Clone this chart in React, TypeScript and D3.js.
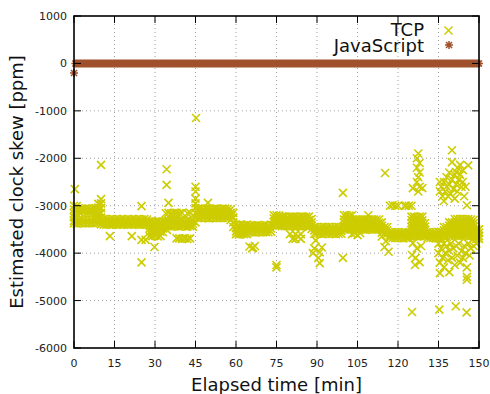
import React from "react";
import * as d3 from "d3";

// ---- tick labels ----
const xTicks = [0, 15, 30, 45, 60, 75, 90, 105, 120, 135, 150];
const yTicks = [1000, 0, -1000, -2000, -3000, -4000, -5000, -6000];

// ---- series names ----
const seriesNames = ["TCP", "JavaScript"];

// ---- TCP: dense band, one row per minute: [minute, ...skew values (ppm)] ----
const tcpBand: number[][] = [
  [0, -3000, -3080, -3160, -3240, -3320, -3370],
  [1, -3010, -3090, -3170, -3250, -3320, -3380],
  [2, -3060, -3130, -3300, -3370],
  [3, -3060, -3120, -3300, -3370],
  [4, -3060, -3120, -3300, -3370],
  [5, -3060, -3130, -3300, -3370],
  [6, -3070, -3130, -3300, -3370],
  [7, -3060, -3120, -3300, -3370],
  [8, -3050, -3130, -3210, -3300, -3370],
  [9, -2960, -3040, -3120, -3200, -3280, -3360],
  [10, -2860, -2950, -3050, -3150, -3250, -3330, -3390],
  [11, -3280, -3340, -3400],
  [12, -3280, -3340, -3400],
  [13, -3290, -3350, -3400],
  [14, -3280, -3340, -3400],
  [15, -3290, -3340, -3390],
  [16, -3280, -3340, -3400],
  [17, -3290, -3350, -3400],
  [18, -3280, -3340, -3400],
  [19, -3290, -3340, -3390],
  [20, -3280, -3340, -3400],
  [21, -3290, -3350, -3400],
  [22, -3280, -3340, -3400],
  [23, -3290, -3340, -3390],
  [24, -3280, -3340, -3400],
  [25, -3290, -3350, -3400],
  [26, -3280, -3340, -3400],
  [27, -3290, -3340, -3400],
  [28, -3330, -3400, -3480, -3560, -3640],
  [29, -3330, -3400, -3480, -3560, -3640],
  [30, -3340, -3410, -3480, -3560, -3630],
  [31, -3330, -3400, -3480, -3560, -3650],
  [32, -3340, -3400, -3470, -3550, -3640],
  [33, -3330, -3400, -3480, -3560],
  [34, -3160, -3320, -3380, -3430],
  [35, -3150, -3320, -3380, -3430],
  [36, -3160, -3320, -3380, -3440],
  [37, -3150, -3320, -3380, -3430],
  [38, -3150, -3320, -3380, -3430],
  [39, -3160, -3320, -3380, -3440],
  [40, -3150, -3320, -3380, -3430],
  [41, -3330, -3380, -3430],
  [42, -3160, -3320, -3380, -3440],
  [43, -3150, -3320, -3380, -3430],
  [44, -3320, -3380, -3440],
  [45, -2600, -2700, -2850, -2950, -3050, -3150, -3250, -3350],
  [46, -3060, -3130, -3200, -3260],
  [47, -3060, -3130, -3200, -3260],
  [48, -3070, -3130, -3200, -3260],
  [49, -3060, -3130, -3200, -3260],
  [50, -3060, -3130, -3200, -3270],
  [51, -3070, -3130, -3200, -3260],
  [52, -3060, -3130, -3200, -3260],
  [53, -3060, -3140, -3200, -3260],
  [54, -3070, -3130, -3200, -3260],
  [55, -3060, -3130, -3200, -3260],
  [56, -3060, -3130, -3210, -3260],
  [57, -3070, -3130, -3200, -3260],
  [58, -3080, -3150, -3220, -3300],
  [59, -3150, -3250, -3350, -3450],
  [60, -3400, -3470, -3540, -3600],
  [61, -3410, -3480, -3550, -3610],
  [62, -3400, -3470, -3540, -3600],
  [63, -3410, -3480, -3550, -3600],
  [64, -3400, -3470, -3540, -3600],
  [65, -3420, -3490, -3560],
  [66, -3420, -3490, -3560],
  [67, -3420, -3490, -3570],
  [68, -3410, -3490, -3560],
  [69, -3420, -3490, -3560],
  [70, -3420, -3480, -3560],
  [71, -3410, -3490, -3560],
  [72, -3420, -3490, -3560],
  [73, -3400, -3480, -3550],
  [74, -3200, -3270, -3340, -3410],
  [75, -3200, -3270, -3340, -3410],
  [76, -3210, -3280, -3350, -3420],
  [77, -3230, -3300, -3370, -3430],
  [78, -3230, -3300, -3370, -3430],
  [79, -3240, -3300, -3370, -3430],
  [80, -3230, -3300, -3370, -3430],
  [81, -3230, -3310, -3370, -3430],
  [82, -3230, -3300, -3370, -3440],
  [83, -3240, -3300, -3370, -3430],
  [84, -3230, -3300, -3370, -3430],
  [85, -3230, -3300, -3380, -3430],
  [86, -3230, -3300, -3370, -3430],
  [87, -3230, -3300, -3370, -3440],
  [88, -3280, -3350, -3420, -3490],
  [89, -3450, -3520, -3590],
  [90, -3450, -3520, -3590],
  [91, -3460, -3520, -3590],
  [92, -3450, -3520, -3600],
  [93, -3450, -3520, -3590],
  [94, -3450, -3530, -3590],
  [95, -3450, -3520, -3590],
  [96, -3460, -3520, -3590],
  [97, -3450, -3520, -3600],
  [98, -3450, -3520, -3590],
  [99, -3450, -3530, -3590],
  [100, -3200, -3290, -3360, -3430, -3500],
  [101, -3200, -3290, -3360, -3430, -3500],
  [102, -3210, -3290, -3360, -3430, -3500],
  [103, -3200, -3290, -3360, -3440, -3500],
  [104, -3290, -3360, -3430, -3500],
  [105, -3290, -3360, -3430, -3500],
  [106, -3290, -3370, -3430, -3500],
  [107, -3290, -3360, -3430, -3500],
  [108, -3290, -3360, -3430, -3510],
  [109, -3200, -3290, -3360, -3430, -3500],
  [110, -3290, -3360, -3430, -3500],
  [111, -3290, -3370, -3430, -3500],
  [112, -3290, -3360, -3430, -3500],
  [113, -3290, -3360, -3440, -3500],
  [114, -3350, -3420, -3500, -3570],
  [115, -3450, -3520, -3590],
  [116, -3450, -3520, -3590],
  [117, -3560, -3620, -3680],
  [118, -3560, -3620, -3680],
  [119, -3560, -3630, -3680],
  [120, -3560, -3620, -3680],
  [121, -3570, -3620, -3680],
  [122, -3560, -3620, -3690],
  [123, -3560, -3620, -3680],
  [124, -3560, -3630, -3680],
  [125, -3230, -3300, -3370, -3440, -3510, -3580, -3640],
  [126, -3230, -3300, -3370, -3440, -3510, -3580, -3640],
  [127, -3240, -3300, -3370, -3440, -3510, -3580, -3650],
  [128, -3230, -3300, -3370, -3440, -3510, -3580, -3640],
  [129, -3230, -3310, -3370, -3440, -3510, -3580, -3640],
  [130, -3370, -3440, -3510, -3580, -3640],
  [131, -3560, -3620, -3680],
  [132, -3560, -3620, -3680],
  [133, -3560, -3630, -3680],
  [134, -3560, -3620, -3690],
  [135, -3550, -3620, -3690],
  [136, -3550, -3620, -3690],
  [137, -3450, -3520, -3590, -3660],
  [138, -3450, -3520, -3590, -3660],
  [139, -3350, -3420, -3490, -3560, -3630],
  [140, -3350, -3420, -3490, -3560, -3630],
  [141, -3280, -3350, -3420, -3490, -3560, -3630],
  [142, -3280, -3350, -3420, -3490, -3560, -3630],
  [143, -3280, -3350, -3420, -3490, -3560, -3630],
  [144, -3280, -3350, -3420, -3490, -3560, -3630],
  [145, -3280, -3350, -3420, -3490, -3560, -3630],
  [146, -3280, -3350, -3420, -3490, -3560, -3630],
  [147, -3290, -3360, -3430, -3500, -3570, -3640],
  [148, -3300, -3370, -3440, -3510, -3580, -3640],
  [149, -3500, -3570, -3640, -3700],
  [150, -3500, -3570, -3640, -3700],
];

// ---- TCP: scattered samples [minute, skew (ppm)] ----
const tcpScatter: number[][] = [
  [0.3, -2650], [10, -2140],
  [13.3, -3640], [21.4, -3640], [25, -3010], [25, -3720], [26.5, -3720], [25, -4195], [29.8, -3870],
  [34.3, -2230], [34.3, -2560], [35, -2940], [34.4, -3510],
  [38, -3690], [39, -3690], [40, -3700], [41, -3690], [42, -3700], [43, -3690],
  [45.2, -1150], [49.6, -2940],
  [65, -3860], [66, -3900], [67, -3850], [66.3, -3880],
  [75, -4250], [75, -4300],
  [80, -3600], [81, -3700], [82, -3600], [82, -3700], [83, -3650], [84, -3700], [84, -3600],
  [88.5, -4000], [89, -3900], [89.5, -3730], [90.5, -4100], [91, -3980], [91, -4210], [91.8, -3880],
  [99.6, -2730], [99.6, -4100],
  [103, -3600], [104, -3580], [105, -3620], [106, -3580],
  [115.2, -2310], [114, -3650], [115, -3870], [116.5, -3970], [115.5, -3750],
  [117, -3000], [118, -2990], [119, -3000], [120, -3000], [122.5, -3000], [123, -3000], [124, -3000], [125, -3000],
  [125.2, -4040], [126.3, -4250], [128, -4190], [125.5, -3790], [127, -3900], [126.5, -4100], [128.5, -3850],
  [127.5, -1900], [127, -2000], [128, -2100], [127, -2200], [128, -2300], [127.5, -2400], [127, -2500],
  [128, -2600], [127.5, -2700], [125.5, -2630], [129, -2630],
  [125.2, -5240], [135.3, -5190], [141.4, -5120], [145.4, -5250],
  [135.5, -2500], [135.5, -2700], [136, -2600], [136.5, -2800], [137, -2500], [137, -2900], [137.5, -2700],
  [138, -2400], [138, -2600], [138.5, -2800], [139, -2300], [139, -2550], [139.5, -2750], [140, -1830],
  [140, -2080], [140, -2450], [140.5, -2650], [141, -2350], [141, -2850], [141.5, -2290], [141.5, -2550],
  [142, -2200], [142, -2700], [142.5, -2450], [143, -2140], [143, -2350], [143.5, -2600], [144, -2250],
  [144, -2500], [144.5, -2800], [145, -2600], [145.5, -2990], [146, -2150],
  [135, -3800], [135, -4000], [135.5, -4200], [135.5, -4420], [136, -3900], [136.5, -4100], [137, -3800],
  [137, -4300], [137.5, -4000], [138, -3850], [138.5, -4150], [139, -3950], [139, -4400], [139.5, -3800],
  [140, -4100], [140.5, -3900], [141, -4250], [141.5, -3850], [142, -4050], [142.5, -3800], [143, -4200],
  [143.5, -3950], [144, -4100], [144.5, -3850], [145, -4000], [145.5, -4300], [145.5, -4500], [145.5, -4560],
  [146, -3800], [146.5, -4050], [147, -3900], [148, -3850], [149, -3800],
];

// ---- JavaScript: one sample every half minute, skew (ppm) ----
const jsSampleStep = 0.5;
const jsSkew: number[] = [
  -200, 0, 0, 0, 0, 0, 0, 0, 0, 0, 0, 0, 0, 0, 0, 0, 0, 0, 0, 0, 0, 0, 0, 0, 0, 0, 0, 0, 0, 0,
  0, 0, 0, 0, 0, 0, 0, 0, 0, 0, 0, 0, 0, 0, 0, 0, 0, 0, 0, 0, 0, 0, 0, 0, 0, 0, 0, 0, 0, 0,
  0, 0, 0, 0, 0, 0, 0, 0, 0, 0, 0, 0, 0, 0, 0, 0, 0, 0, 0, 0, 0, 0, 0, 0, 0, 0, 0, 0, 0, 0,
  0, 0, 0, 0, 0, 0, 0, 0, 0, 0, 0, 0, 0, 0, 0, 0, 0, 0, 0, 0, 0, 0, 0, 0, 0, 0, 0, 0, 0, 0,
  0, 0, 0, 0, 0, 0, 0, 0, 0, 0, 0, 0, 0, 0, 0, 0, 0, 0, 0, 0, 0, 0, 0, 0, 0, 0, 0, 0, 0, 0,
  0, 0, 0, 0, 0, 0, 0, 0, 0, 0, 0, 0, 0, 0, 0, 0, 0, 0, 0, 0, 0, 0, 0, 0, 0, 0, 0, 0, 0, 0,
  0, 0, 0, 0, 0, 0, 0, 0, 0, 0, 0, 0, 0, 0, 0, 0, 0, 0, 0, 0, 0, 0, 0, 0, 0, 0, 0, 0, 0, 0,
  0, 0, 0, 0, 0, 0, 0, 0, 0, 0, 0, 0, 0, 0, 0, 0, 0, 0, 0, 0, 0, 0, 0, 0, 0, 0, 0, 0, 0, 0,
  0, 0, 0, 0, 0, 0, 0, 0, 0, 0, 0, 0, 0, 0, 0, 0, 0, 0, 0, 0, 0, 0, 0, 0, 0, 0, 0, 0, 0, 0,
  0, 0, 0, 0, 0, 0, 0, 0, 0, 0, 0, 0, 0, 0, 0, 0, 0, 0, 0, 0, 0, 0, 0, 0, 0, 0, 0, 0, 0, 0,
  0,
];

const W = 490;
const H = 394;
const M = { left: 74, right: 479, top: 16, bottom: 348 };
const FONT = "'DejaVu Sans', 'Liberation Sans', sans-serif";
const TCP_COLOR = "#cccc00";
const JS_COLOR = "#a0522d";

const X_PATH = "M-4,-4L4,4M-4,4L4,-4";
const STAR_PATH = "M-4,0L4,0M0,-4L0,4M-3,-3L3,3M-3,3L3,-3";

export default function App() {
  const x = d3.scaleLinear().domain([0, 150]).range([M.left, M.right]);
  const y = d3.scaleLinear().domain([-6000, 1000]).range([M.bottom, M.top]);

  const tcpPoints: [number, number][] = [];
  tcpBand.forEach((row) => {
    const t = row[0];
    for (let i = 1; i < row.length; i++) tcpPoints.push([t, row[i]]);
  });
  tcpScatter.forEach((p) => tcpPoints.push([p[0], p[1]]));

  const jsPoints: [number, number][] = jsSkew.map((v, i) => [i * jsSampleStep, v]);

  const tickLen = 7;

  return (
    <svg
      width={W}
      height={H}
      style={{ position: "absolute", left: 0, top: 0, background: "#fff" }}
      fontFamily={FONT}
    >
      <rect x={0} y={0} width={W} height={H} fill="#fff" />
      {/* grid */}
      <g stroke="#a0a0a0" strokeWidth={1} strokeDasharray="1,3">
        {xTicks.slice(1, -1).map((t) => (
          <line key={"gx" + t} x1={x(t)} x2={x(t)} y1={M.top} y2={M.bottom} />
        ))}
        {yTicks.slice(1, -1).map((v) => (
          <line key={"gy" + v} x1={M.left} x2={M.right} y1={y(v)} y2={y(v)} />
        ))}
      </g>

      {/* TCP points */}
      <g stroke={TCP_COLOR} strokeWidth={1.6} fill="none">
        {tcpPoints.map((p, i) => (
          <path key={"t" + i} d={X_PATH} transform={`translate(${x(p[0])},${y(p[1])})`} />
        ))}
      </g>

      {/* JavaScript points */}
      <g stroke={JS_COLOR} strokeWidth={1.5} fill="none">
        {jsPoints.map((p, i) => (
          <path key={"j" + i} d={STAR_PATH} transform={`translate(${x(p[0])},${y(p[1])})`} />
        ))}
      </g>

      {/* ticks */}
      <g stroke="#000" strokeWidth={1}>
        {xTicks.map((t) => (
          <g key={"xt" + t}>
            <line x1={x(t)} x2={x(t)} y1={M.bottom} y2={M.bottom - tickLen} />
            <line x1={x(t)} x2={x(t)} y1={M.top} y2={M.top + tickLen} />
          </g>
        ))}
        {yTicks.map((v) => (
          <g key={"yt" + v}>
            <line x1={M.left} x2={M.left + tickLen} y1={y(v)} y2={y(v)} />
            <line x1={M.right} x2={M.right - tickLen} y1={y(v)} y2={y(v)} />
          </g>
        ))}
      </g>

      {/* border */}
      <rect
        x={M.left}
        y={M.top}
        width={M.right - M.left}
        height={M.bottom - M.top}
        fill="none"
        stroke="#000"
        strokeWidth={1.6}
      />

      {/* tick labels */}
      <g fontSize={11} fill="#222">
        {xTicks.map((t) => (
          <text key={"xl" + t} x={x(t)} y={367} textAnchor="middle">
            {t}
          </text>
        ))}
        {yTicks.map((v) => (
          <text key={"yl" + v} x={67} y={y(v)} dy="0.36em" textAnchor="end">
            {v}
          </text>
        ))}
      </g>

      {/* axis titles */}
      <text x={(M.left + M.right) / 2} y={391} textAnchor="middle" fontSize={18} fill="#111">
        Elapsed time [min]
      </text>
      <text
        transform={`translate(23,${(M.top + M.bottom) / 2}) rotate(-90)`}
        textAnchor="middle"
        fontSize={18}
        fill="#111"
      >
        Estimated clock skew [ppm]
      </text>

      {/* legend */}
      <g fontSize={18} fill="#111">
        <text x={424} y={35.5} textAnchor="end">
          {seriesNames[0]}
        </text>
        <text x={424} y={52} textAnchor="end">
          {seriesNames[1]}
        </text>
      </g>
      <path d={X_PATH} transform="translate(448.5,30.5)" stroke={TCP_COLOR} strokeWidth={1.5} fill="none" />
      <path d={STAR_PATH} transform="translate(449,45)" stroke={JS_COLOR} strokeWidth={1.5} fill="none" />
    </svg>
  );
}
